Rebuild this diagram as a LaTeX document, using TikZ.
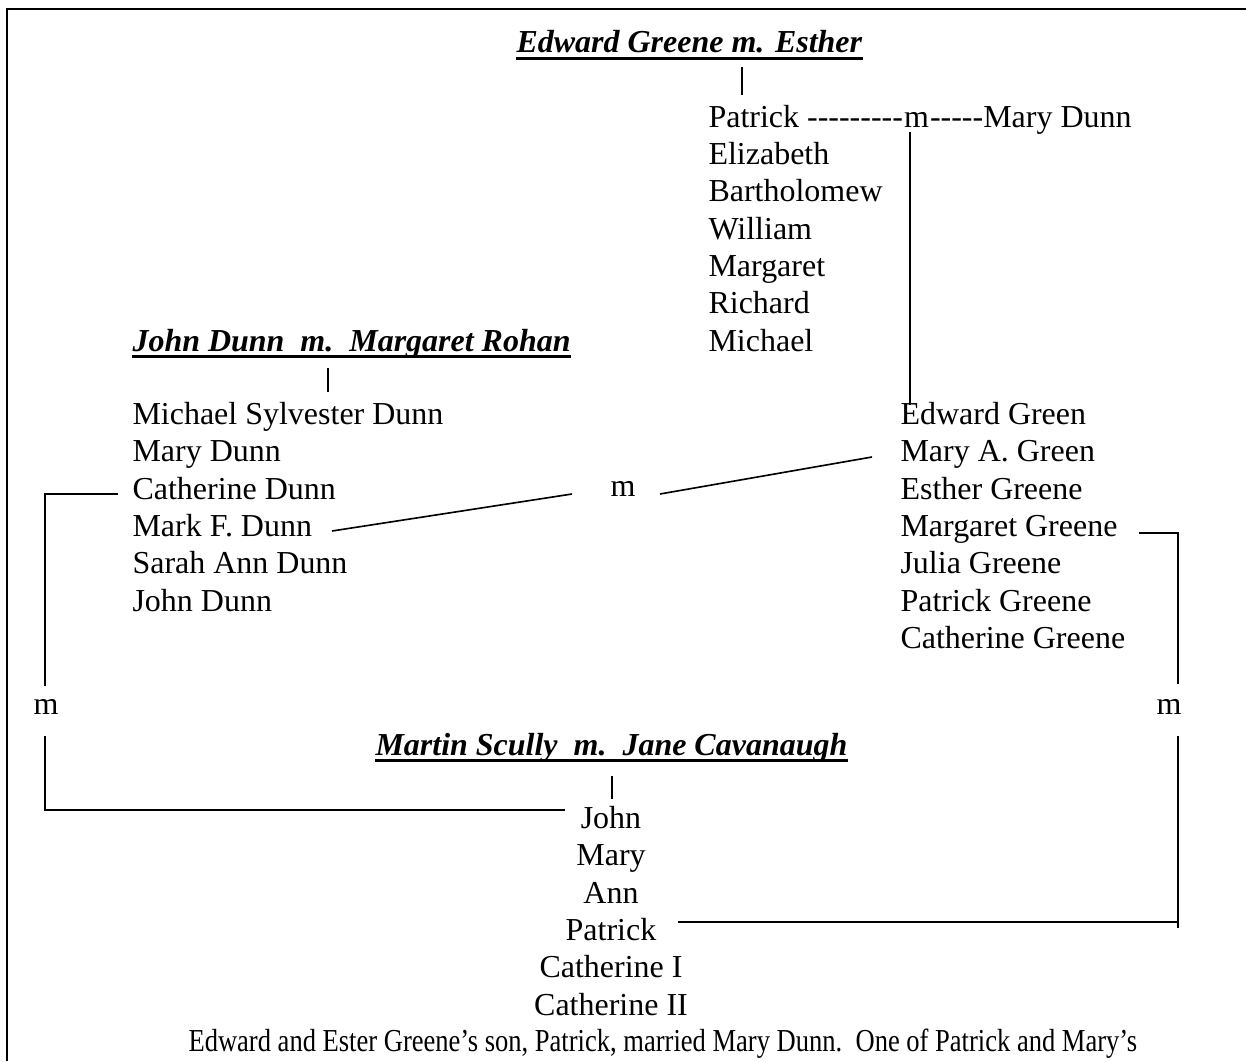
\documentclass[tikz,border=0pt]{standalone}
\usepackage{fontspec}
\setmainfont{Liberation Serif}[Ligatures=TeXOff]
\begin{document}
\begin{tikzpicture}[x=0.369pt,y=-0.369pt,
  txt/.style={inner sep=0pt,anchor=base west,font=\fontsize{11.8}{14}\selectfont},
  ctxt/.style={txt,anchor=base},
  head/.style={inner sep=0pt,anchor=base west,font=\fontsize{11.8}{14}\selectfont\bfseries\itshape},
  ul/.style={line width=1.1pt},
  tick/.style={line width=0.45pt},
  conn/.style={line width=0.6pt},
  frame/.style={line width=0.9pt}]
\useasboundingbox (0,0) rectangle (1246,1061);
\draw[frame] (7,1061) -- (7,9) -- (1246,9);

% Edward Greene family
\node[head] (h1) at (516,53) {Edward Greene m. Esther\ };
\draw[ul] ([yshift=-1.9pt]h1.base west) -- ([yshift=-1.9pt]h1.base east);
\coordinate (t1a) at (742,67);
\coordinate (t1b) at (742,95);
\draw[tick] (t1a) -- (t1b);

\node[txt] (pat) at (708,127) {Patrick ---------};
\node[txt] (pm) at (pat.base east) {m};
\node[txt] (mdn) at (pm.base east) {-----Mary Dunn};
\node[txt] (eli) at (708,164) {Elizabeth};
\node[txt] (bar) at (708,201) {Bartholomew};
\node[txt] (wil) at (708,239) {William};
\node[txt] (mar) at (708,276) {Margaret};
\node[txt] (ric) at (708,313) {Richard};
\node[txt] (mic) at (708,351) {Michael};

% John Dunn family
\node[head] (h2) at (132,351) {John Dunn\ \ m.\ \ Margaret Rohan};
\draw[ul] ([yshift=-1.9pt]h2.base west) -- ([yshift=-1.9pt]h2.base east);
\coordinate (t2a) at (328,368);
\coordinate (t2b) at (328,392);
\draw[tick] (t2a) -- (t2b);

\node[txt] (msd) at (132,424) {Michael Sylvester Dunn};
\node[txt] (mdu) at (132,461) {Mary Dunn};
\node[txt] (cdu) at (132,499) {Catherine Dunn};
\node[txt] (mfd) at (132,536) {Mark F. Dunn};
\node[txt] (sad) at (132,573) {Sarah Ann Dunn};
\node[txt] (jdu) at (132,611) {John Dunn};

% Patrick & Mary's children
\node[txt] (egr) at (900,424) {Edward Green};
\node[txt] (mag) at (900,461) {Mary A. Green};
\node[txt] (esg) at (900,499) {Esther Greene};
\node[txt] (mgg) at (900,536) {Margaret Greene};
\node[txt] (jug) at (900,573) {Julia Greene};
\node[txt] (ptg) at (900,611) {Patrick Greene};
\node[txt] (ctg) at (900,648) {Catherine Greene};

\coordinate (pmtop) at (910,132);
\coordinate (pmbot) at (910,405);
\draw[conn] (pmtop) -- (pmbot);

% Mark F. Dunn m. Mary A. Green
\node[ctxt] (m1) at (623,496) {m};
\coordinate (mk1) at (332,531);
\coordinate (mk2) at (572,494);
\coordinate (ma1) at (660,494);
\coordinate (ma2) at (872,457);
\draw[conn] (mk1) -- (mk2);
\draw[conn] (ma1) -- (ma2);

% Catherine Dunn m. John Scully
\node[ctxt] (m2) at (46,714) {m};
\coordinate (c1) at (118,494);
\coordinate (c2) at (45,494);
\coordinate (c3) at (45,686);
\coordinate (c4) at (45,736);
\coordinate (c5) at (45,810);
\coordinate (c6) at (565,810);
\draw[conn] (c1) -- (c2) -- (c3);
\draw[conn] (c4) -- (c5) -- (c6);

% Margaret Greene m. Patrick Scully
\node[ctxt] (m3) at (1169,714) {m};
\coordinate (g1) at (1139,533);
\coordinate (g2) at (1178,533);
\coordinate (g3) at (1178,684);
\coordinate (g4) at (1178,736);
\coordinate (g5) at (1178,928);
\coordinate (g6) at (1178,922);
\coordinate (g7) at (678,922);
\draw[conn] (g1) -- (g2) -- (g3);
\draw[conn] (g4) -- (g5);
\draw[conn] (g7) -- (g6);

% Martin Scully family
\node[head] (h3) at (375,755) {Martin Scully\ \ m.\ \ Jane Cavanaugh};
\draw[ul] ([yshift=-1.9pt]h3.base west) -- ([yshift=-1.9pt]h3.base east);
\coordinate (t3a) at (612,776);
\coordinate (t3b) at (612,799);
\draw[tick] (t3a) -- (t3b);

\node[ctxt] (sjo) at (611,828) {John};
\node[ctxt] (sma) at (611,865) {Mary};
\node[ctxt] (san) at (611,903) {Ann};
\node[ctxt] (spa) at (611,940) {Patrick};
\node[ctxt] (sc1) at (611,977) {Catherine I};
\node[ctxt] (sc2) at (611,1015) {Catherine II};

\node[txt] (para) at (188,1051) {\scalebox{0.83}[1]{Edward and Ester Greene’s son, Patrick, married Mary Dunn.\ \ One of Patrick and Mary’s}};
\end{tikzpicture}
\end{document}
